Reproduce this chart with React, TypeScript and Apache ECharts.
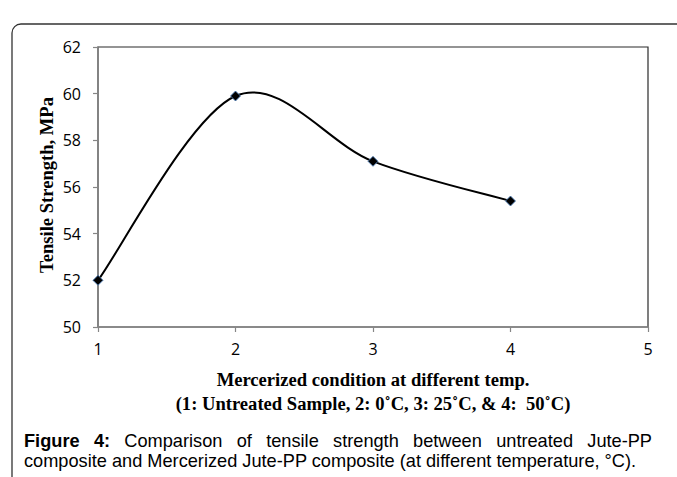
import React, { useEffect, useRef } from "react";
import * as echarts from "echarts";

const conditions = [1, 2, 3, 4];
const tensileStrength = [52.0, 59.9, 57.1, 55.4];
const xTicks = [1, 2, 3, 4, 5];
const yTicks = [50, 52, 54, 56, 58, 60, 62];
const yAxisTitle = "Tensile Strength, MPa";
const xAxisTitleLines = [
  "Mercerized condition at different temp.",
  "(1: Untreated Sample, 2: 0˚C, 3: 25˚C, & 4:  50˚C)",
];
const captionLine1Words = [
  { t: "Figure", b: true },
  { t: "4:", b: true },
  { t: "Comparison", b: false },
  { t: "of", b: false },
  { t: "tensile", b: false },
  { t: "strength", b: false },
  { t: "between", b: false },
  { t: "untreated", b: false },
  { t: "Jute-PP", b: false },
];
const captionLine2 =
  "composite and Mercerized Jute-PP composite (at different temperature, °C).";

const SANS = "'Liberation Sans', Arial, sans-serif";
const SERIF = "'Liberation Serif', 'Times New Roman', serif";
const TICKFONT = "Open Sans";

export default function App() {
  const ref = useRef<HTMLDivElement>(null);

  useEffect(() => {
    document.body.style.margin = "0";
    if (!ref.current) return;
    const canvas = document.createElement("canvas");
    const ctx = canvas.getContext("2d")!;
    const measure = (text: string, font: string) => {
      ctx.font = font;
      return ctx.measureText(text).width;
    };

    const capFs = (14 * 613) / measure(captionLine2, `14px ${SANS}`);
    const yTitleFs = (16 * 176) / measure(yAxisTitle, `bold 16px ${SERIF}`);
    const xTitleFs = (16 * 395) / measure(xAxisTitleLines[1], `bold 16px ${SERIF}`);

    const wordFont = (b: boolean) => `${b ? "bold " : ""}${capFs}px ${SANS}`;
    const widths = captionLine1Words.map((w) => measure(w.t, wordFont(w.b)));
    const total = widths.reduce((a, b) => a + b, 0);
    const left = 24;
    const right = 652;
    const gap = (right - left - total) / (captionLine1Words.length - 1);
    let cx = left;
    const line1Y = 441;
    const line2Y = 461;
    const line1Elems = captionLine1Words.map((w, i) => {
      const el = {
        type: "text",
        x: cx,
        y: line1Y,
        style: {
          text: w.t,
          font: wordFont(w.b),
          fill: "#000",
          align: "left",
          verticalAlign: "middle",
        },
      };
      cx += widths[i] + gap;
      return el;
    });

    const points = conditions.map((c, i) => [c, tensileStrength[i]]);

    // Excel-like smoothed line (Catmull-Rom → cubic Bézier) through the data points
    const renderSmooth = (params: any, api: any) => {
      if (params.dataIndex !== 0) return null;
      const p = points.map((d) => api.coord(d));
      const n = p.length;
      const t = 1 / 6;
      const children: any[] = [];
      for (let i = 0; i < n - 1; i++) {
        const p0 = p[Math.max(i - 1, 0)];
        const p1 = p[i];
        const p2 = p[i + 1];
        const p3 = p[Math.min(i + 2, n - 1)];
        children.push({
          type: "bezierCurve",
          shape: {
            x1: p1[0],
            y1: p1[1],
            cpx1: p1[0] + (p2[0] - p0[0]) * t,
            cpy1: p1[1] + (p2[1] - p0[1]) * t,
            cpx2: p2[0] - (p3[0] - p1[0]) * t,
            cpy2: p2[1] - (p3[1] - p1[1]) * t,
            x2: p2[0],
            y2: p2[1],
          },
          style: { stroke: "#000", lineWidth: 2, fill: "none" },
        });
      }
      return { type: "group", children };
    };

    const chart = echarts.init(ref.current, null, { renderer: "svg" });
    chart.setOption({
      animation: false,
      backgroundColor: "#fff",
      grid: {
        left: 98,
        top: 47,
        right: 29,
        bottom: 150,
        show: true,
        borderColor: "#2a2a2a",
        borderWidth: 1.2,
        backgroundColor: "transparent",
      },
      xAxis: {
        type: "value",
        min: xTicks[0],
        max: xTicks[xTicks.length - 1],
        interval: 1,
        splitLine: { show: false },
        axisLine: { show: true, lineStyle: { color: "#868686", width: 1.5 } },
        axisTick: { show: true, length: 5, lineStyle: { color: "#868686", width: 1.2 } },
        axisLabel: {
          margin: 14,
          color: "#000",
          fontSize: 16,
          fontFamily: TICKFONT,
        },
      },
      yAxis: {
        type: "value",
        min: yTicks[0],
        max: yTicks[yTicks.length - 1],
        interval: 2,
        splitLine: { show: false },
        axisLine: { show: true, lineStyle: { color: "#868686", width: 1.5 } },
        axisTick: { show: true, length: 5, lineStyle: { color: "#868686", width: 1.2 } },
        axisLabel: {
          margin: 17,
          color: "#000",
          fontSize: 16,
          fontFamily: TICKFONT,
        },
      },
      series: [
        {
          type: "custom",
          renderItem: renderSmooth,
          data: points,
          z: 2,
          silent: true,
        },
        {
          type: "scatter",
          data: points,
          symbol: "diamond",
          symbolSize: 10,
          itemStyle: {
            color: "#000",
            borderColor: "rgba(79,129,189,0.85)",
            borderWidth: 1,
            opacity: 1,
          },
          z: 3,
        },
      ],
      graphic: [
        {
          type: "rect",
          shape: { x: 12, y: 24, width: 720, height: 520, r: 9 },
          style: { fill: "none", stroke: "#333", lineWidth: 1.3 },
          z: -1,
          silent: true,
        },
        {
          type: "text",
          x: 46.7,
          y: 185,
          rotation: Math.PI / 2,
          style: {
            text: yAxisTitle,
            font: `bold ${yTitleFs}px ${SERIF}`,
            fill: "#000",
            align: "center",
            verticalAlign: "middle",
          },
        },
        {
          type: "text",
          x: 373,
          y: 379,
          style: {
            text: xAxisTitleLines[0],
            font: `bold ${xTitleFs}px ${SERIF}`,
            fill: "#000",
            align: "center",
            verticalAlign: "middle",
          },
        },
        {
          type: "text",
          x: 373,
          y: 403,
          style: {
            text: xAxisTitleLines[1],
            font: `bold ${xTitleFs}px ${SERIF}`,
            fill: "#000",
            align: "center",
            verticalAlign: "middle",
          },
        },
        ...line1Elems,
        {
          type: "text",
          x: left,
          y: line2Y,
          style: {
            text: captionLine2,
            font: `${capFs}px ${SANS}`,
            fill: "#000",
            align: "left",
            verticalAlign: "middle",
          },
        },
      ],
    });
    return () => chart.dispose();
  }, []);

  return <div ref={ref} style={{ width: 677, height: 477 }} />;
}
